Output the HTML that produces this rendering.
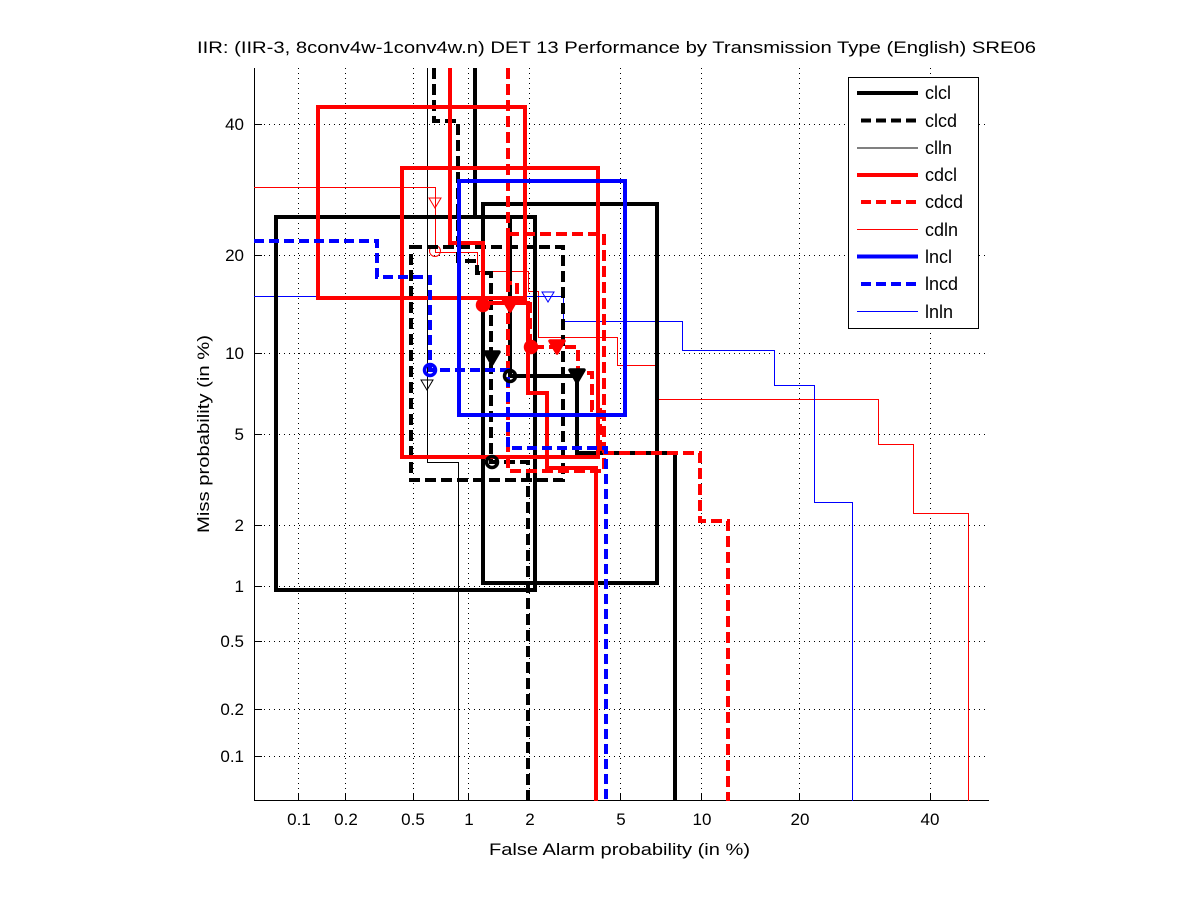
<!DOCTYPE html>
<html>
<head>
<meta charset="utf-8">
<style>
  html,body{margin:0;padding:0;background:#fff;}
  svg{display:block;}
  text{font-family:"Liberation Sans", Arial, Helvetica, sans-serif; fill:#000;}
</style>
</head>
<body>
<svg width="1201" height="900" viewBox="0 0 1201 900" xmlns="http://www.w3.org/2000/svg">
  <rect width="1201" height="900" fill="#fff"/>

  <!-- Title -->
  <text x="616.5" y="53" font-size="17" text-anchor="middle" textLength="839" lengthAdjust="spacingAndGlyphs">IIR: (IIR-3, 8conv4w-1conv4w.n) DET 13 Performance by Transmission Type (English) SRE06</text>

  <!-- Grid -->
  <g stroke="#000" stroke-width="1" stroke-dasharray="1 4" fill="none" shape-rendering="crispEdges">
    <line x1="298.5" y1="68" x2="298.5" y2="801"/>
    <line x1="345.5" y1="68" x2="345.5" y2="801"/>
    <line x1="413.5" y1="68" x2="413.5" y2="801"/>
    <line x1="468.5" y1="68" x2="468.5" y2="801"/>
    <line x1="529.5" y1="68" x2="529.5" y2="801"/>
    <line x1="620.5" y1="68" x2="620.5" y2="801"/>
    <line x1="701.5" y1="68" x2="701.5" y2="801"/>
    <line x1="799.5" y1="68" x2="799.5" y2="801"/>
    <line x1="930.5" y1="68" x2="930.5" y2="801"/>
    <line x1="254" y1="124.5" x2="989" y2="124.5"/>
    <line x1="254" y1="255.5" x2="989" y2="255.5"/>
    <line x1="254" y1="353.5" x2="989" y2="353.5"/>
    <line x1="254" y1="434.5" x2="989" y2="434.5"/>
    <line x1="254" y1="525.5" x2="989" y2="525.5"/>
    <line x1="254" y1="586.5" x2="989" y2="586.5"/>
    <line x1="254" y1="641.5" x2="989" y2="641.5"/>
    <line x1="254" y1="709.5" x2="989" y2="709.5"/>
    <line x1="254" y1="756.5" x2="989" y2="756.5"/>
  </g>

  <!-- Axes -->
  <g stroke="#000" stroke-width="1" fill="none" shape-rendering="crispEdges">
    <line x1="254.5" y1="68" x2="254.5" y2="801"/>
    <line x1="254" y1="800.5" x2="989" y2="800.5"/>
    <!-- y ticks -->
    <line x1="254" y1="124.5" x2="262" y2="124.5"/>
    <line x1="254" y1="255.5" x2="262" y2="255.5"/>
    <line x1="254" y1="353.5" x2="262" y2="353.5"/>
    <line x1="254" y1="434.5" x2="262" y2="434.5"/>
    <line x1="254" y1="525.5" x2="262" y2="525.5"/>
    <line x1="254" y1="586.5" x2="262" y2="586.5"/>
    <line x1="254" y1="641.5" x2="262" y2="641.5"/>
    <line x1="254" y1="709.5" x2="262" y2="709.5"/>
    <line x1="254" y1="756.5" x2="262" y2="756.5"/>
    <!-- x ticks -->
    <line x1="298.5" y1="801" x2="298.5" y2="793"/>
    <line x1="345.5" y1="801" x2="345.5" y2="793"/>
    <line x1="413.5" y1="801" x2="413.5" y2="793"/>
    <line x1="468.5" y1="801" x2="468.5" y2="793"/>
    <line x1="529.5" y1="801" x2="529.5" y2="793"/>
    <line x1="620.5" y1="801" x2="620.5" y2="793"/>
    <line x1="701.5" y1="801" x2="701.5" y2="793"/>
    <line x1="799.5" y1="801" x2="799.5" y2="793"/>
    <line x1="930.5" y1="801" x2="930.5" y2="793"/>
  </g>

  <!-- Y tick labels -->
  <g font-size="17" text-anchor="end">
    <text x="244" y="130">40</text>
    <text x="244" y="261">20</text>
    <text x="244" y="359">10</text>
    <text x="244" y="440">5</text>
    <text x="244" y="531">2</text>
    <text x="244" y="592">1</text>
    <text x="244" y="647">0.5</text>
    <text x="244" y="715">0.2</text>
    <text x="244" y="762">0.1</text>
  </g>

  <!-- X tick labels -->
  <g font-size="17" text-anchor="middle">
    <text x="299" y="825">0.1</text>
    <text x="346" y="825">0.2</text>
    <text x="413" y="825">0.5</text>
    <text x="469" y="825">1</text>
    <text x="530" y="825">2</text>
    <text x="621" y="825">5</text>
    <text x="702" y="825">10</text>
    <text x="800" y="825">20</text>
    <text x="930" y="825">40</text>
  </g>

  <!-- Axis labels -->
  <text x="619.5" y="855" font-size="17" text-anchor="middle" textLength="261" lengthAdjust="spacingAndGlyphs">False Alarm probability (in %)</text>
  <text transform="translate(209,434) rotate(-90)" font-size="17" text-anchor="middle" textLength="198" lengthAdjust="spacingAndGlyphs">Miss probability (in %)</text>

  <!-- Thin curves -->
  <g fill="none" stroke-width="1" shape-rendering="crispEdges">
    <!-- clln -->
    <path d="M427.5,68 V462.5 H458.5 V801" stroke="#000"/>
    <!-- cdln -->
    <path d="M254,187.5 H435.5 V252.5 H477.5 V271.5 H528.5 V291.5 H538.5 V337.5 H617.5 V365.5 H657.5 V399.5 H878.5 V444.5 H913.5 V513.5 H968.5 V801" stroke="#f00"/>
    <!-- lnln -->
    <path d="M254,296.5 H563.5 V321.5 H682.5 V350.5 H774.5 V385.5 H814.5 V502.5 H852.5 V801" stroke="#00f"/>
  </g>

  <!-- Thin markers -->
  <g fill="none" stroke-width="1">
    <polygon points="421,380 433,380 427,390" stroke="#000"/>
    <polygon points="429,198 441,198 435,208" stroke="#f00"/>
    <circle cx="435" cy="251" r="5.5" stroke="#f00"/>
    <polygon points="542,292 554,292 548,302" stroke="#00f"/>
  </g>

  <!-- Thick solid / dashed curves and boxes -->
  <g fill="none" stroke-width="4" stroke-linejoin="miter">
    <!-- clcl -->
    <path d="M475,68 V217 H510 V376 H577 V453 H675 V801" stroke="#000"/>
    <rect x="276" y="217" width="259" height="373" stroke="#000"/>
    <rect x="483" y="204" width="174" height="379" stroke="#000"/>

    <!-- clcd -->
    <path d="M434,68 V121 H458 V261 H477 V273 H491 V462 H528 V801" stroke="#000" stroke-dasharray="11 5"/>
    <rect x="411" y="247" width="152" height="233" stroke="#000" stroke-dasharray="11 5"/>

    <!-- cdcl -->
    <path d="M450,68 V243 H483 V303 H528 V393 H547 V468 H596 V801" stroke="#f00"/>
    <rect x="318" y="107" width="207" height="191" stroke="#f00"/>
    <rect x="402" y="168" width="196" height="289" stroke="#f00"/>

    <!-- cdcd -->
    <path d="M508,68 V283 H517 V300 H530 V347 H578 V373 H592 V410 H600 V453 H700 V521 H728 V801" stroke="#f00" stroke-dasharray="11 5"/>
    <rect x="508" y="234" width="96" height="237" stroke="#f00" stroke-dasharray="11 5"/>

    <!-- lncl -->
    <rect x="459" y="181" width="166" height="234" stroke="#00f"/>

    <!-- lncd -->
    <path d="M254,241 H377 V277 H430 V370 H508 V448 H606 V801" stroke="#00f" stroke-dasharray="10 5"/>
  </g>

  <!-- Thick markers -->
  <g stroke-width="3.5" stroke-linejoin="round">
    <!-- clcl -->
    <circle cx="510" cy="376" r="5.5" fill="none" stroke="#000"/>
    <polygon points="570,370 584,370 577,382" fill="#000" stroke="#000"/>
    <!-- clcd -->
    <polygon points="485,352 499,352 492,364" fill="#000" stroke="#000"/>
    <circle cx="492" cy="462" r="5.5" fill="none" stroke="#000"/>
    <!-- cdcl -->
    <circle cx="483" cy="305" r="5.5" fill="#f00" stroke="#f00"/>
    <polygon points="503,299 517,299 510,311" fill="#f00" stroke="#f00"/>
    <!-- cdcd -->
    <circle cx="531" cy="347" r="5.5" fill="#f00" stroke="#f00"/>
    <polygon points="550,341 564,341 557,353" fill="#f00" stroke="#f00"/>
    <!-- lncd -->
    <circle cx="430" cy="370" r="5.5" fill="none" stroke="#00f"/>
  </g>

  <!-- Legend -->
  <rect x="848.5" y="77.5" width="130" height="251" fill="#fff" stroke="#000" stroke-width="1"/>
  <g fill="none">
    <line x1="857" y1="93" x2="918" y2="93" stroke="#000" stroke-width="4"/>
    <line x1="861" y1="120.5" x2="918" y2="120.5" stroke="#000" stroke-width="4" stroke-dasharray="10 5"/>
    <line x1="857" y1="148" x2="918" y2="148" stroke="#000" stroke-width="1"/>
    <line x1="857" y1="175" x2="918" y2="175" stroke="#f00" stroke-width="4"/>
    <line x1="861" y1="202" x2="918" y2="202" stroke="#f00" stroke-width="4" stroke-dasharray="10 5"/>
    <line x1="857" y1="229.5" x2="918" y2="229.5" stroke="#f00" stroke-width="1"/>
    <line x1="857" y1="256.5" x2="918" y2="256.5" stroke="#00f" stroke-width="4"/>
    <line x1="861" y1="284" x2="918" y2="284" stroke="#00f" stroke-width="4" stroke-dasharray="10 5"/>
    <line x1="857" y1="311.5" x2="918" y2="311.5" stroke="#00f" stroke-width="1"/>
  </g>
  <g font-size="18">
    <text x="925" y="99">clcl</text>
    <text x="925" y="127">clcd</text>
    <text x="925" y="154">clln</text>
    <text x="925" y="181">cdcl</text>
    <text x="925" y="208">cdcd</text>
    <text x="925" y="236">cdln</text>
    <text x="925" y="263">lncl</text>
    <text x="925" y="290">lncd</text>
    <text x="925" y="318">lnln</text>
  </g>
</svg>
</body>
</html>
